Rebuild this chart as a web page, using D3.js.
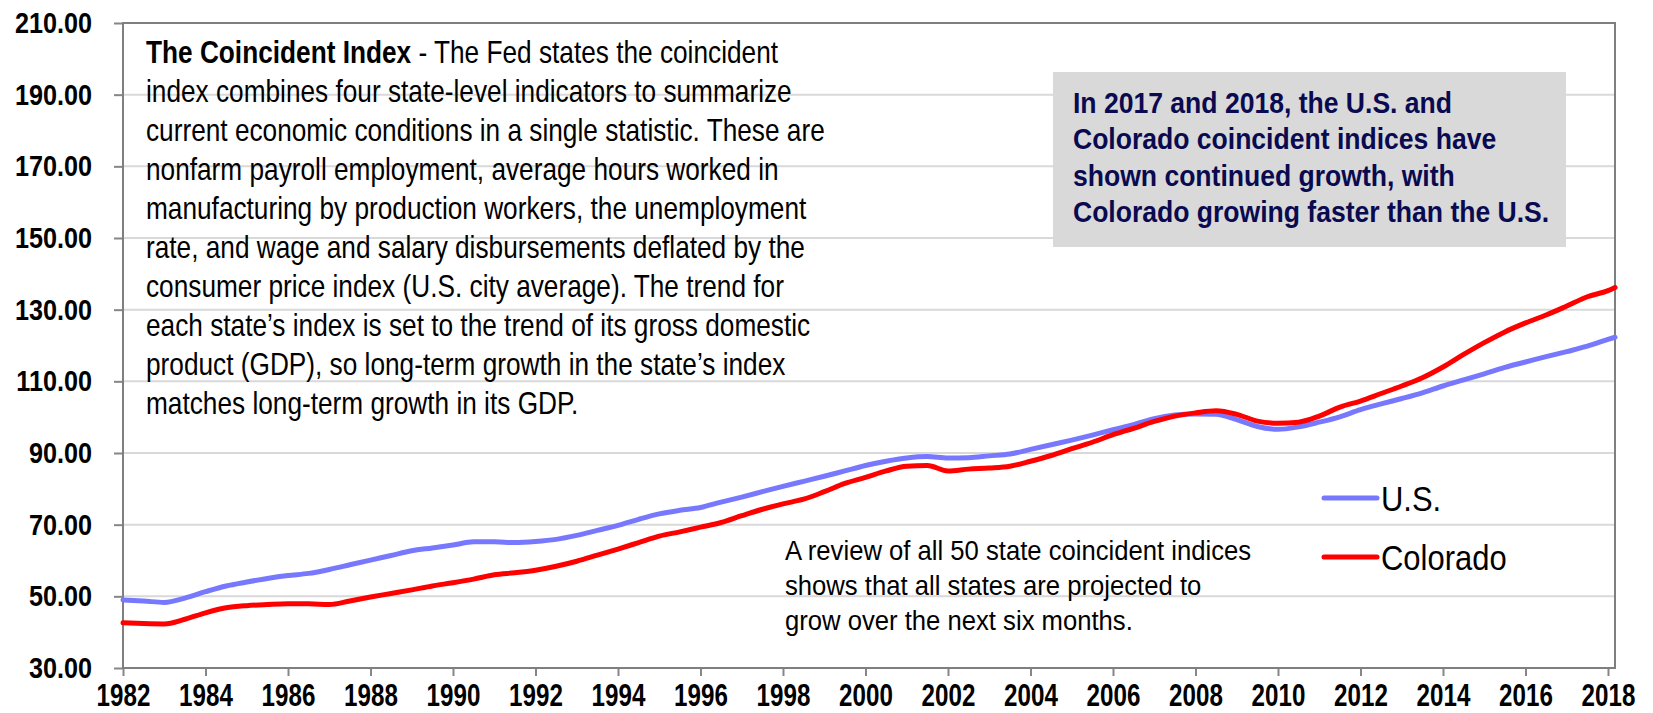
<!DOCTYPE html>
<html>
<head>
<meta charset="utf-8">
<script src="https://cdn.jsdelivr.net/npm/d3@7"></script>
<style>
  html, body { margin: 0; padding: 0; background: #fff; }
  svg { display: block; }
  text { font-family: "Liberation Sans Narrow", "Arial Narrow", "Liberation Sans", Arial, sans-serif; }
</style>
</head>
<body>
<svg id="chart" width="1653" height="713"></svg>
<script>
// ---- Data ----
const years = [1982.0,1982.5,1983.0,1983.5,1984.0,1984.5,1985.0,1985.5,1986.0,1986.5,1987.0,1987.5,1988.0,1988.5,1989.0,1989.5,1990.0,1990.5,1991.0,1991.5,1992.0,1992.5,1993.0,1993.5,1994.0,1994.5,1995.0,1995.5,1996.0,1996.5,1997.0,1997.5,1998.0,1998.5,1999.0,1999.5,2000.0,2000.5,2001.0,2001.5,2002.0,2002.5,2003.0,2003.5,2004.0,2004.5,2005.0,2005.5,2006.0,2006.5,2007.0,2007.5,2008.0,2008.5,2009.0,2009.5,2010.0,2010.5,2011.0,2011.5,2012.0,2012.5,2013.0,2013.5,2014.0,2014.5,2015.0,2015.5,2016.0,2016.5,2017.0,2017.5,2018.0,2018.17];
const usValues = [49.0,48.7,48.3,49.5,51.3,52.9,54.0,55.0,55.8,56.4,57.5,58.8,60.1,61.4,62.7,63.5,64.3,65.2,65.2,65.0,65.3,65.9,67.0,68.4,69.8,71.5,73.0,74.0,74.8,76.3,77.7,79.2,80.7,82.1,83.5,85.0,86.5,87.7,88.6,89.0,88.6,88.7,89.2,89.7,91.0,92.3,93.6,95.0,96.5,97.9,99.6,100.6,100.9,100.8,99.3,97.4,96.6,97.3,98.6,100.1,102.1,103.7,105.2,106.8,108.7,110.4,112.1,113.9,115.4,116.9,118.3,119.8,121.7,122.3];
const coValues = [42.6,42.4,42.3,43.6,45.4,46.8,47.4,47.7,47.9,47.9,47.7,48.7,49.8,50.8,51.8,52.9,53.8,54.8,56.0,56.6,57.3,58.4,59.8,61.5,63.2,65.0,66.8,68.0,69.3,70.6,72.5,74.3,75.8,77.1,79.2,81.5,83.2,85.0,86.3,86.5,85.0,85.5,85.8,86.3,87.7,89.3,91.2,93.0,95.1,96.9,98.8,100.3,101.2,101.8,100.8,98.9,98.3,98.6,100.3,102.8,104.5,106.6,108.7,111.0,114.0,117.5,120.8,123.8,126.3,128.5,131.0,133.6,135.3,136.2];
const xTickYears = [1982,1984,1986,1988,1990,1992,1994,1996,1998,2000,2002,2004,2006,2008,2010,2012,2014,2016,2018];
const yTickValues = [30,50,70,90,110,130,150,170,190,210];
const seriesNames = ["U.S.", "Colorado"];
const seriesColors = ["#7878ff", "#ff0000"];

const introBold = "The Coincident Index";
const introLines = [
  " - The Fed states the coincident",
  "index combines four state-level indicators to summarize",
  "current economic conditions in a single statistic. These are",
  "nonfarm payroll employment, average hours worked in",
  "manufacturing by production workers, the unemployment",
  "rate, and wage and salary disbursements deflated by the",
  "consumer price index (U.S. city average). The trend for",
  "each state\u2019s index is set to the trend of its gross domestic",
  "product (GDP), so long-term growth in the state\u2019s index",
  "matches long-term growth in its GDP."
];
const boxLines = [
  "In 2017 and 2018, the U.S. and",
  "Colorado coincident indices have",
  "shown continued growth, with",
  "Colorado growing faster than the U.S."
];
const reviewLines = [
  "A review of all 50 state coincident indices",
  "shows that all states are projected to",
  "grow over the next six months."
];

// ---- Layout ----
const svg = d3.select("#chart");
const plot = { left: 123, right: 1615, top: 23, bottom: 668 };

const x = d3.scaleLinear().domain([1982, 2018.17]).range([plot.left, plot.right]);
const y = d3.scaleLinear().domain([30, 210]).range([plot.bottom, plot.top]);

// gridlines
svg.append("g").selectAll("line").data(yTickValues.slice(1, -1)).join("line")
  .attr("x1", plot.left).attr("x2", plot.right)
  .attr("y1", d => y(d)).attr("y2", d => y(d))
  .attr("stroke", "#d9d9d9").attr("stroke-width", 2);

// y axis
const yAxis = d3.axisLeft(y).tickValues(yTickValues).tickFormat(d3.format(".2f")).tickSize(9).tickPadding(22);
const gy = svg.append("g").attr("transform", `translate(${plot.left},0)`).call(yAxis);
gy.select(".domain").remove();
gy.selectAll(".tick line").attr("stroke", "#868686").attr("stroke-width", 2);
gy.selectAll(".tick text")
  .attr("font-size", 30).attr("font-weight", "bold").attr("fill", "#000")
  .attr("font-family", "'Liberation Sans', Arial, sans-serif")
  .attr("x", 0)
  .attr("transform", "translate(-31,0) scale(0.84,1)");

// x axis
const xAxis = d3.axisBottom(x).tickValues(xTickYears).tickFormat(d3.format("d")).tickSize(8).tickPadding(8);
const gx = svg.append("g").attr("transform", `translate(0,${plot.bottom})`).call(xAxis);
gx.select(".domain").remove();
gx.selectAll(".tick line").attr("stroke", "#868686").attr("stroke-width", 2);
gx.selectAll(".tick text")
  .attr("font-size", 31).attr("font-weight", "bold").attr("fill", "#000")
  .attr("font-family", "'Liberation Sans', Arial, sans-serif")
  .attr("transform", "scale(0.78,1)");

// plot frame
svg.append("rect")
  .attr("x", plot.left).attr("y", plot.top)
  .attr("width", plot.right - plot.left).attr("height", plot.bottom - plot.top)
  .attr("fill", "none").attr("stroke", "#7f7f7f").attr("stroke-width", 2);

// lines
const line = d3.line().x(d => x(d[0])).y(d => y(d[1])).curve(d3.curveMonotoneX);
const series = [usValues, coValues];
series.forEach((vals, i) => {
  svg.append("path")
    .datum(years.map((yr, j) => [yr, vals[j]]))
    .attr("d", line)
    .attr("fill", "none")
    .attr("stroke", seriesColors[i])
    .attr("stroke-width", 5)
    .attr("stroke-linejoin", "round")
    .attr("stroke-linecap", "round");
});

// helper: horizontally condensed text block
function textBlock(x0, y0, sx) {
  return svg.append("g").attr("transform", `translate(${x0},${y0}) scale(${sx},1)`)
    .append("text").attr("font-family", "'Liberation Sans', Arial, sans-serif");
}

// intro text
const introLH = 39.0;
const intro = textBlock(146, 63, 0.86).attr("font-size", 30.5).attr("fill", "#000");
introLines.forEach((t, i) => {
  if (i === 0) {
    intro.append("tspan").attr("x", 0).attr("y", 0).attr("font-weight", "bold").text(introBold);
    intro.append("tspan").text(t);
  } else {
    intro.append("tspan").attr("x", 0).attr("y", i * introLH).text(t);
  }
});

// grey box
svg.append("rect").attr("x", 1053).attr("y", 72).attr("width", 513).attr("height", 175).attr("fill", "#d9d9d9");
const bt = textBlock(1073, 113, 0.9).attr("font-size", 29.5).attr("font-weight", "bold").attr("fill", "#0a0a50");
boxLines.forEach((t, i) => {
  bt.append("tspan").attr("x", 0).attr("y", i * 36.5).text(t);
});

// review text
const rt = textBlock(785, 560, 0.9).attr("font-size", 28.5).attr("fill", "#000");
reviewLines.forEach((t, i) => {
  rt.append("tspan").attr("x", 0).attr("y", i * 35).text(t);
});

// legend
const legY = [498, 557];
seriesNames.forEach((name, i) => {
  svg.append("line").attr("x1", 1324).attr("x2", 1377).attr("y1", legY[i]).attr("y2", legY[i])
    .attr("stroke", seriesColors[i]).attr("stroke-width", 5).attr("stroke-linecap", "round");
  textBlock(1381, legY[i] + 13, 0.86).attr("font-size", 36).attr("fill", "#000").text(name);
});
</script>
</body>
</html>
